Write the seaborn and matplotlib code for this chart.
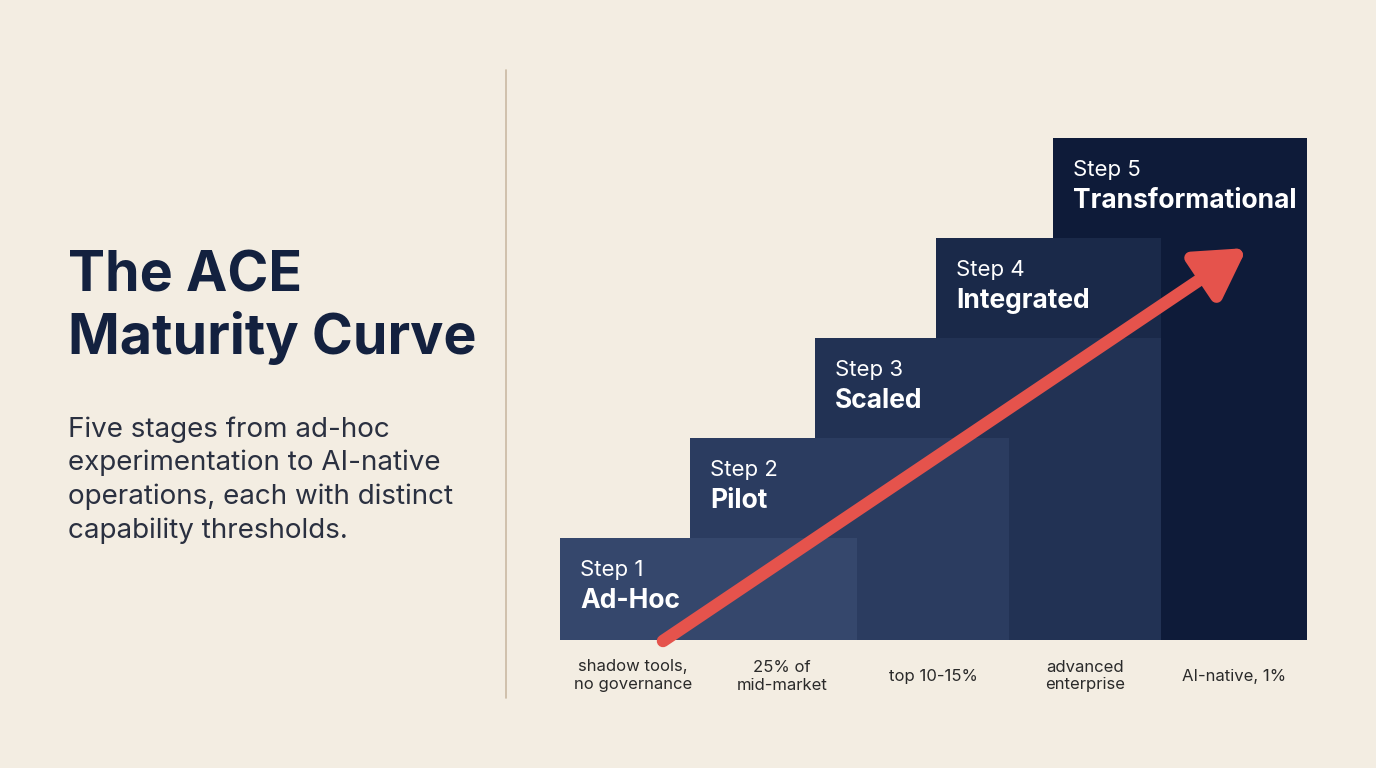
import matplotlib
matplotlib.use("Agg")
import matplotlib.pyplot as plt
import seaborn as sns
import pandas as pd

# ----- data -----
steps = ["Step 1", "Step 2", "Step 3", "Step 4", "Step 5"]
names = ["Ad-Hoc", "Pilot", "Scaled", "Integrated", "Transformational"]
bar_left = [560, 690, 815, 936, 1053]
bar_right = [857, 1009, 1161, 1161, 1307]
levels = [1, 2, 3, 4, 5]
bar_colors = ["#35476c", "#2b3c60", "#223254", "#1a2949", "#0e1b39"]
notes = ["shadow tools,\nno governance", "25% of\nmid-market", "top 10-15%",
         "advanced\nenterprise", "AI-native, 1%"]
note_x = [633, 782, 933, 1085, 1234]

BG = "#f3ede2"
NAVY = "#13213f"
LEVEL_PX = 100
BASE = 640

sns.set_theme(style="white")
plt.rcParams["font.family"] = ["Inter", "DejaVu Sans"]

fig = plt.figure(figsize=(13.76, 7.68), dpi=100, facecolor=BG)
ax = fig.add_axes([0, 0, 1, 1])
ax.set_xlim(0, 1376)
ax.set_ylim(768, 0)
ax.set_facecolor(BG)
ax.axis("off")

df = pd.DataFrame({"step": steps, "name": names, "left": bar_left,
                   "right": bar_right, "level": levels, "color": bar_colors})

# draw from tallest to shortest so lower steps sit on top
for _, r in df.iloc[::-1].iterrows():
    top = BASE - r["level"] * LEVEL_PX - 2
    ax.bar(r["left"], top - BASE, width=r["right"] - r["left"], bottom=BASE,
           align="edge", color=r["color"], edgecolor="none")
for _, r in df.iterrows():
    top = BASE - r["level"] * LEVEL_PX - 2
    ax.text(r["left"] + 20, top + 32, r["step"], color="white", fontsize=16, va="center")
    ax.text(r["left"] + 20, top + 63, r["name"], color="white", fontsize=19,
            fontweight="bold", va="center")

# arrow
ax.annotate("", xy=(1247, 248), xytext=(663, 641),
            arrowprops=dict(arrowstyle="-|>,head_width=1.4,head_length=2.4",
                            color="#e5534c", lw=9, shrinkA=0, shrinkB=0))
ax.set_ylim(768, 0)

for x, t in zip(note_x, notes):
    ax.text(x, 676, t, ha="center", va="center", fontsize=12, color="#2a2a2a",
            linespacing=1.25)

# divider
ax.plot([506, 506], [70, 698], color="#c9b9a3", lw=1.2)

ax.text(68, 308, "The ACE\nMaturity Curve", fontsize=40, fontweight="bold",
        color=NAVY, va="center", linespacing=1.2)
ax.text(68, 480, "Five stages from ad-hoc\nexperimentation to AI-native\n"
        "operations, each with distinct\ncapability thresholds.",
        fontsize=20, color="#2a3040", va="center", linespacing=1.35)

fig.savefig("out.png", dpi=100, facecolor=BG)
